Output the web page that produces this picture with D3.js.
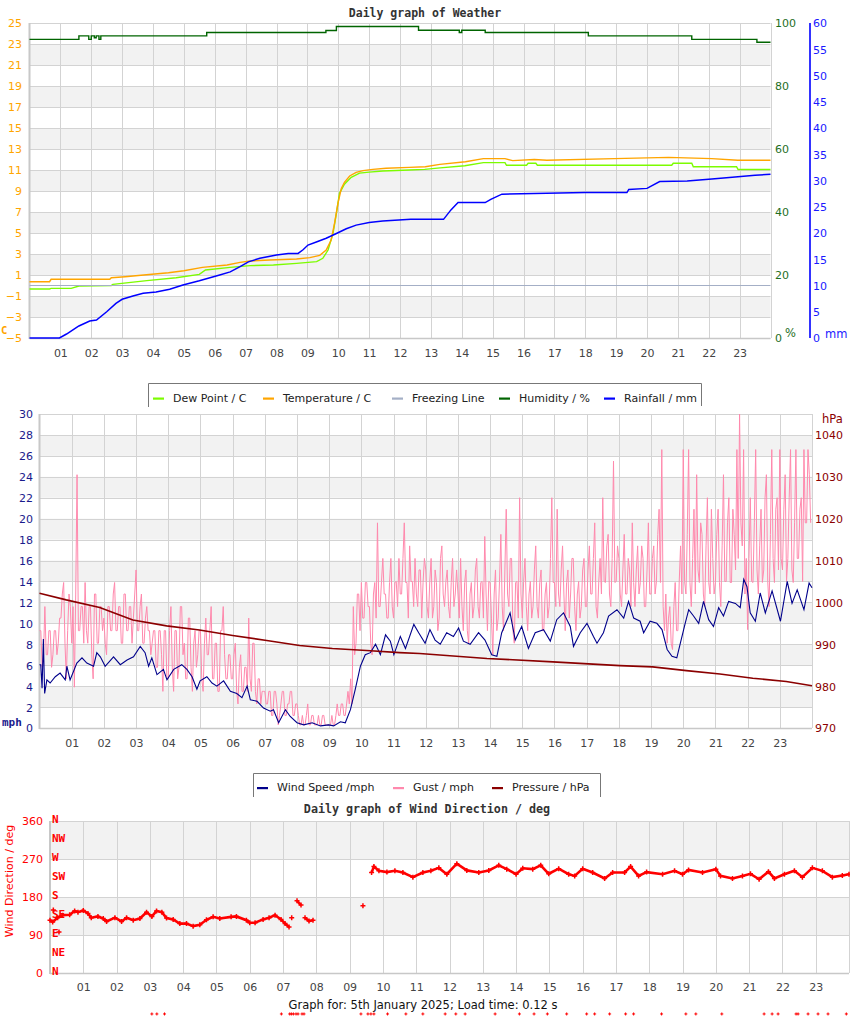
<!DOCTYPE html>
<html><head><meta charset="utf-8">
<script src="https://cdn.jsdelivr.net/npm/d3@7"></script>
<style>body{margin:0;background:#fff}svg{display:block}</style>
</head><body>
<svg id="c" width="850" height="1017"></svg>
<script>
// ---------------- DATA ----------------
const hourTicks = [1,2,3,4,5,6,7,8,9,10,11,12,13,14,15,16,17,18,19,20,21,22,23];
const hourLabels = ["01","02","03","04","05","06","07","08","09","10","11","12","13","14","15","16","17","18","19","20","21","22","23"];
const tempTicks = [-5,-3,-1,1,3,5,7,9,11,13,15,17,19,21,23,25];
const humTicks = [0,20,40,60,80,100];
const rainTicks = [0,5,10,15,20,25,30,35,40,45,50,55,60];
const mphTicks = [0,2,4,6,8,10,12,14,16,18,20,22,24,26,28,30];
const hpaTicks = [970,980,990,1000,1010,1020,1030,1040];
const dirTicks = [0,90,180,270,360];
const compassLabels = ["N","NE","E","SE","S","SW","W","NW","N"];
const compassDegrees = [0,45,90,135,180,225,270,315,360];

// [hour, °C]
const temperature = [[0,0.36],[0.65,0.36],[0.7,0.59],[2.6,0.59],[2.65,0.74],[3.1,0.84],[3.7,1.0],[4.5,1.22],[5.0,1.4],[5.6,1.73],[6.4,1.95],[6.82,2.2],[7.14,2.33],[7.78,2.43],[8.65,2.52],[9.08,2.65],[9.4,2.87],[9.61,3.38],[9.77,4.33],[9.88,5.92],[9.99,7.83],[10.1,9.25],[10.2,9.83],[10.37,10.43],[10.58,10.78],[10.8,10.94],[11.12,11.06],[11.55,11.16],[12.3,11.25],[12.82,11.31],[13.29,11.54],[14.12,11.79],[14.7,12.08],[15.4,12.08],[15.65,11.89],[16.35,12.0],[16.76,11.93],[18.94,12.08],[20.7,12.2],[22.1,12.08],[22.94,11.93],[24,11.93]];
const dewPoint = [[0,-0.33],[0.65,-0.33],[0.7,-0.27],[1.35,-0.27],[1.6,-0.05],[2.65,0.0],[2.7,0.11],[3.8,0.46],[4.75,0.74],[5.5,1.06],[5.7,1.48],[6.5,1.73],[7.14,1.89],[7.9,1.95],[8.65,2.11],[9.3,2.27],[9.5,2.59],[9.67,3.38],[9.83,4.97],[9.94,6.88],[10.04,8.78],[10.2,9.64],[10.42,10.3],[10.69,10.7],[11.0,10.8],[11.44,10.9],[12.3,11.0],[12.8,11.06],[13.3,11.2],[14.1,11.4],[14.7,11.7],[15.4,11.7],[15.45,11.45],[16.1,11.45],[16.15,11.64],[16.4,11.64],[16.45,11.45],[20.8,11.45],[20.85,11.64],[21.45,11.64],[21.5,11.31],[22.9,11.31],[22.95,11.05],[24,11.05]];
const freezing = [[0,0],[24,0]];
// [hour, %]
const humidity = [[0,94.8],[1.6,95.9],[1.92,94.8],[2.0,95.9],[2.1,95.3],[2.16,95.9],[2.25,94.8],[2.31,95.9],[5.74,97.0],[9.6,97.6],[9.94,98.9],[12.6,97.7],[13.92,97.0],[14.0,97.7],[14.76,97.0],[18.1,95.9],[21.45,94.8],[23.56,93.9],[24,93.9]];
// [hour, mm]
const rainfall = [[0,0],[0.97,0],[1.2,0.76],[1.6,2.29],[1.95,3.24],[2.17,3.43],[2.5,5.0],[2.8,6.6],[3.0,7.37],[3.35,8.0],[3.68,8.51],[4.1,8.76],[4.54,9.28],[4.97,10.1],[5.5,10.9],[6.16,12.0],[6.5,12.6],[6.82,13.6],[7.09,14.5],[7.46,15.2],[8.0,15.8],[8.38,16.1],[8.7,16.1],[8.86,16.8],[9.02,17.7],[9.29,18.3],[9.61,19.0],[9.94,19.9],[10.26,20.8],[10.58,21.5],[11.0,22.0],[11.44,22.3],[12.35,22.6],[13.41,22.6],[13.65,24.4],[13.88,25.8],[14.76,25.8],[14.94,26.4],[15.3,27.4],[18.0,27.7],[19.35,27.7],[19.41,28.3],[20.0,28.5],[20.41,29.8],[21.3,29.9],[22.1,30.3],[22.76,30.6],[23.5,31.0],[24,31.2]];

// [hour, mph]
const windSpeed = [[0.0,6.05],[0.04,6.05],[0.08,3.8],[0.12,8.5],[0.16,3.3],[0.23,4.6],[0.33,4.3],[0.49,4.9],[0.64,5.25],[0.8,4.6],[0.85,5.9],[0.95,4.6],[1.16,6.2],[1.32,6.7],[1.47,6.2],[1.68,5.9],[1.78,7.2],[1.89,6.8],[2.04,5.9],[2.3,6.8],[2.51,6.05],[2.72,6.5],[2.92,6.8],[3.13,7.8],[3.28,7.2],[3.39,5.9],[3.49,6.7],[3.65,5.1],[3.85,5.6],[3.96,4.6],[4.17,5.6],[4.42,6.05],[4.58,5.6],[4.74,4.9],[4.89,3.7],[4.99,4.5],[5.2,4.9],[5.36,4.3],[5.51,4.0],[5.72,4.5],[5.93,3.5],[6.13,3.3],[6.29,2.9],[6.45,4.0],[6.55,2.7],[6.76,2.55],[6.96,1.9],[7.17,1.6],[7.27,1.75],[7.43,0.5],[7.64,1.75],[7.79,1.1],[8.0,0.5],[8.21,0.3],[8.47,0.5],[8.73,0.2],[8.98,0.3],[9.14,0.2],[9.35,0.6],[9.5,0.5],[9.66,1.75],[9.81,3.7],[9.97,5.9],[10.12,7.0],[10.28,7.2],[10.44,8.0],[10.59,7.0],[10.75,8.9],[10.9,8.3],[11.01,7.0],[11.21,8.75],[11.37,7.6],[11.63,9.9],[11.78,9.1],[11.98,8.1],[12.13,9.4],[12.29,8.4],[12.45,8.0],[12.65,9.1],[12.86,8.75],[13.02,9.55],[13.17,8.3],[13.38,8.0],[13.64,9.1],[13.84,8.4],[14.05,7.0],[14.21,6.85],[14.36,9.1],[14.62,11.0],[14.78,8.4],[14.98,9.7],[15.19,7.6],[15.4,9.1],[15.66,9.4],[15.87,8.3],[16.07,10.35],[16.28,11.0],[16.49,9.7],[16.59,7.8],[16.8,9.1],[17.01,10.0],[17.21,8.75],[17.32,8.1],[17.52,9.1],[17.68,10.7],[17.94,11.3],[18.15,10.5],[18.3,12.1],[18.46,10.5],[18.66,10.2],[18.77,9.1],[18.97,10.2],[19.18,10.0],[19.34,9.4],[19.5,7.5],[19.65,6.85],[19.8,6.7],[19.91,8.1],[20.06,10.0],[20.17,11.3],[20.32,10.7],[20.48,10.0],[20.63,12.1],[20.79,10.35],[20.94,9.7],[21.1,11.5],[21.25,10.7],[21.41,12.1],[21.62,11.9],[21.77,11.5],[21.88,14.2],[21.98,13.5],[22.08,11.0],[22.24,10.2],[22.39,12.9],[22.55,11.0],[22.76,13.1],[23.02,10.2],[23.23,14.0],[23.38,11.9],[23.54,13.2],[23.75,11.3],[23.91,13.85],[24.0,13.4]];
// gust, one value every 2.5 minutes (24 per hour), mph
const gust = [
 9.3,9.3,5.8,7.0,11.6,7.0,7.0,9.3,9.3,5.8,7.0,9.3,9.3,7.0,8.1,10.5,10.5,12.8,13.9,8.1,4.7,9.3,12.8,11.6,
 8.1,11.6,3.9,12.8,24.2,9.3,9.3,11.6,11.6,8.1,13.9,9.3,8.1,11.6,11.6,7.0,4.7,12.8,12.8,8.1,8.1,11.6,11.6,9.3,
 10.5,8.1,7.0,11.6,11.6,9.3,9.3,12.8,13.9,9.3,9.3,11.6,11.6,8.1,8.1,12.8,12.8,9.3,9.3,11.6,11.6,8.1,10.5,12.8,
 15.1,9.3,9.3,11.6,12.8,8.1,8.1,10.5,11.6,9.3,9.3,7.0,8.1,9.3,9.3,5.8,5.8,9.3,9.3,7.0,3.5,9.3,9.3,4.7,
 4.7,9.3,11.6,5.8,3.5,9.3,9.3,4.7,5.8,11.6,11.6,7.0,8.1,4.7,4.7,10.5,10.5,5.8,3.5,8.1,9.3,5.8,7.0,9.3,
 9.3,4.7,3.5,8.1,10.5,7.0,7.0,9.3,11.6,4.7,4.7,8.1,8.1,3.5,3.5,9.3,9.3,11.6,7.0,4.7,4.7,7.0,7.0,4.7,
 4.7,7.0,8.1,3.5,2.3,5.8,7.0,3.5,3.5,5.8,5.8,3.5,10.5,4.7,3.5,8.1,8.1,3.5,2.3,4.7,4.7,2.3,3.5,3.5,
 3.5,2.3,2.3,3.5,3.5,1.2,1.2,3.5,3.5,2.3,0.3,1.2,2.3,3.5,3.5,1.2,1.2,2.3,2.3,3.5,3.5,1.2,1.2,2.3,
 2.3,1.2,0.3,0.3,1.2,0.3,0.3,1.2,2.3,0.3,0.3,1.2,1.2,0.3,0.3,0.3,1.2,0.3,0.3,1.2,1.2,0.3,0.3,0.3,
 0.3,0.3,1.2,0.3,0.3,1.2,2.3,1.2,1.2,2.3,2.3,1.2,1.2,2.3,3.5,2.3,4.7,2.3,11.6,7.0,8.1,12.8,12.8,9.3,
 13.9,10.5,10.5,13.9,13.9,11.6,11.6,8.1,7.0,12.8,13.9,10.5,19.6,11.6,11.6,14.0,16.2,12.8,12.8,10.5,10.5,13.9,16.2,11.6,
 10.5,13.9,14.0,11.6,16.2,12.8,12.8,16.2,19.6,13.9,13.9,10.5,17.4,14.0,14.0,11.6,16.2,12.8,11.6,15.1,15.1,10.5,13.9,16.2,
 15.1,11.6,10.5,14.0,16.2,10.5,11.6,15.1,13.9,9.3,10.5,16.2,17.4,12.8,11.6,14.0,15.1,11.6,10.5,13.9,16.2,11.6,12.8,15.1,
 12.8,10.5,16.2,11.6,9.3,13.9,15.1,9.3,8.1,12.8,13.9,10.5,11.6,15.1,16.2,11.6,10.5,13.9,14.0,10.5,18.3,12.8,9.3,14.0,
 13.9,10.5,7.0,12.8,15.1,9.3,10.5,14.0,18.5,11.6,9.3,15.1,20.9,12.8,11.6,16.2,16.2,9.3,8.1,13.9,14.0,10.5,22.0,12.8,
 10.5,14.0,16.2,11.6,9.3,12.8,14.0,10.5,11.6,15.1,17.4,11.6,10.5,13.9,15.1,9.3,9.3,12.8,13.9,10.5,11.6,16.2,22.0,13.9,
 13.9,11.6,20.9,12.8,11.6,15.1,17.4,12.8,9.3,13.9,15.1,10.5,12.8,16.2,16.2,11.6,9.3,12.8,14.0,10.5,11.6,15.1,16.2,11.6,
 11.6,15.1,17.4,12.8,12.8,16.2,19.6,11.6,10.5,14.0,16.2,12.8,22.0,14.0,13.9,17.4,18.5,12.8,11.6,16.2,25.5,13.9,14.0,17.4,
 16.2,12.8,11.6,15.1,18.5,12.8,12.8,16.2,15.1,11.6,19.6,13.9,11.6,15.1,17.4,12.8,13.9,17.4,16.2,11.6,11.6,15.1,19.6,12.8,
 12.8,16.2,17.4,12.8,14.0,18.5,20.9,13.9,26.6,11.6,9.3,12.8,8.1,10.5,11.6,8.1,7.5,11.6,13.9,9.3,9.3,14.0,17.4,12.8,
 26.6,14.0,12.8,18.5,26.6,13.9,11.6,16.2,20.9,12.8,24.2,15.1,13.9,19.6,18.5,12.8,11.6,17.4,22.0,13.9,12.8,20.9,16.2,12.8,
 13.9,18.5,20.9,13.9,11.6,17.4,24.2,14.0,14.0,19.6,22.0,13.9,13.9,20.9,18.5,15.1,26.6,16.2,30.0,19.6,17.4,26.6,12.8,16.2,
 9.4,16.2,22.0,14.0,13.9,19.6,26.6,15.1,12.8,17.4,20.9,13.9,15.1,22.0,24.2,14.0,11.6,18.5,26.6,16.2,13.9,20.9,22.0,15.1,
 26.6,16.2,15.1,20.9,24.2,14.0,16.2,22.0,26.6,15.1,13.9,19.6,26.6,16.2,16.2,20.9,22.0,14.0,26.6,19.6,19.6,26.6,24.2,19.6];
const gustSamplesPerHour = 24;
// [hour, hPa]
const pressure = [[0,1002.2],[0.83,1000.6],[1.87,998.8],[2.9,995.8],[3.95,994.4],[4.97,993.4],[6.0,992.1],[7.06,990.9],[8.08,989.7],[9.1,989.0],[10.16,988.5],[11.19,988.0],[11.81,987.8],[13.9,986.6],[15.95,985.8],[18.03,984.9],[19.05,984.6],[20.1,983.7],[21.14,982.9],[22.16,981.9],[23.2,981.1],[24,980.1]];

// [hour, degrees]; null = gap
const windDir = [[0.0,125],[0.08,121],[0.23,131],[0.38,137],[0.59,138],[0.74,147],[0.84,144],[1.0,148],[1.14,141],[1.24,131],[1.44,134],[1.6,129],[1.7,122],[1.95,131],[2.15,122],[2.3,131],[2.5,125],[2.7,129],[2.9,144],[3.06,134],[3.2,147],[3.36,144],[3.5,130],[3.7,127],[3.9,117],[4.1,117],[4.3,111],[4.5,114],[4.7,126],[4.9,133],[5.1,129],[5.44,133],[5.6,134],[5.9,125],[6.0,119],[6.16,119],[6.4,127],[6.58,131],[6.76,137],[6.94,127],[7.06,117],[7.18,109],null,[7.26,131],null,[7.42,171],[7.54,161],null,[7.66,131],[7.78,123],[7.9,125],null,[9.4,159],null,[9.66,238],[9.73,252],[9.88,242],[10.12,239],[10.36,242],[10.6,238],[10.9,227],[11.2,238],[11.44,242],[11.68,249],[11.92,234],[12.22,259],[12.52,243],[12.88,238],[13.18,243],[13.48,255],[13.72,246],[14.0,234],[14.2,248],[14.5,246],[14.74,255],[14.98,235],[15.28,247],[15.58,234],[15.76,230],[16.0,247],[16.3,238],[16.66,224],[16.9,238],[17.26,238],[17.44,252],[17.68,230],[17.92,239],[18.4,234],[18.76,242],[19.0,234],[19.18,244],[19.6,238],[20.0,246],[20.14,230],[20.5,224],[20.8,230],[21.04,235],[21.3,222],[21.58,240],[21.76,224],[22.06,234],[22.36,242],[22.6,227],[22.9,249],[23.2,242],[23.5,227],[23.8,231],[24.0,234]];
const windDirIsolated = [[0.1,149],[0.27,97]];
const calmHours = [3.06,3.21,3.44,6.95,7.2,7.25,7.31,7.39,7.45,7.57,7.63,9.34,9.55,9.64,9.73,10.14,10.69,11.2,11.87,12.19,12.47,13.37,14.1,14.54,14.94,15.52,16.12,16.36,16.81,17.29,17.53,18.37,19.1,19.4,20.18,21.45,21.69,21.87,22.41,22.47,22.77,23.07,23.37,23.92];
const calmPlotValue = -97;

// ---------------- DRAWING ----------------
const svg = d3.select("#c");
const SANS = "DejaVu Sans, sans-serif";
const MONO = "DejaVu Sans Mono, monospace";
const GRID = "#d3d3d3", BAND = "#f2f2f2";

function panel(x, y, ticks, grayFromTop) {
  const g = svg.append("g");
  const [x0, x1] = x.range();
  const n = ticks.length - 1;
  for (let i = 0; i < n; i++) {
    const top = y(ticks[n - i]), bot = y(ticks[n - i - 1]);
    if ((i % 2) === grayFromTop) {
      g.append("rect").attr("x", x0).attr("y", top).attr("width", x1 - x0).attr("height", bot - top).attr("fill", BAND);
    }
  }
  ticks.forEach(t => {
    const yy = Math.round(y(t)) + 0.5;
    g.append("line").attr("x1", x0).attr("x2", x1).attr("y1", yy).attr("y2", yy).attr("stroke", GRID);
  });
  hourTicks.concat([24]).forEach(h => {
    const xx = Math.round(x(h)) + 0.5;
    g.append("line").attr("x1", xx).attr("x2", xx).attr("y1", y(ticks[n])).attr("y2", y(ticks[0])).attr("stroke", GRID);
  });
  g.append("line").attr("x1", x0).attr("x2", x0).attr("y1", y(ticks[n])).attr("y2", y(ticks[0]) + 1).attr("stroke", "#c8c8c8").attr("stroke-width", 2);
  g.append("line").attr("x1", x0).attr("x2", x1).attr("y1", y(ticks[0]) + 0.5).attr("y2", y(ticks[0]) + 0.5).attr("stroke", "#c8c8c8").attr("stroke-width", 1.5);
  return g;
}

function hourAxis(x, yPos) {
  const ax = d3.axisBottom(x).tickValues(hourTicks).tickFormat((d, i) => hourLabels[i]).tickSize(0);
  const g = svg.append("g").attr("transform", `translate(0,${yPos})`).call(ax);
  g.select(".domain").remove();
  g.selectAll("text").attr("y", 0).attr("dy", null).attr("font-family", SANS).attr("font-size", 11).attr("fill", "#444");
}

function valueAxis(axisFn, scale, ticks, xPos, color) {
  const ax = axisFn(scale).tickValues(ticks).tickSize(0).tickPadding(0).tickFormat(d3.format("d"));
  const g = svg.append("g").attr("transform", `translate(${xPos},0)`).call(ax);
  g.select(".domain").remove();
  g.selectAll("text").attr("font-family", SANS).attr("font-size", 11).attr("fill", color).attr("dy", "0.36em");
  return g;
}

function text(x, y, s, opts) {
  const t = svg.append("text").attr("x", x).attr("y", y).text(s)
    .attr("font-family", opts.family || SANS).attr("font-size", opts.size || 11)
    .attr("fill", opts.fill || "#000");
  if (opts.anchor) t.attr("text-anchor", opts.anchor);
  if (opts.weight) t.attr("font-weight", opts.weight);
  return t;
}

// ===== Chart 1: Weather =====
const xTop = d3.scaleLinear([0, 24], [29.5, 770.5]);
const yTemp = d3.scaleLinear([-5, 25], [338, 23]);
const yHum = d3.scaleLinear([0, 100], [338, 23]);
const yRain = d3.scaleLinear([0, 60], [338, 23]);

text(425, 16.5, "Daily graph of Weather", {family: MONO, size: 11.5, weight: "bold", fill: "#333", anchor: "middle"});
panel(xTop, yTemp, tempTicks, 1);

const lineT = d3.line().x(d => xTop(d[0])).y(d => yTemp(d[1]));
svg.append("path").attr("d", lineT(dewPoint)).attr("fill", "none").attr("stroke", "#7CFC00").attr("stroke-width", 1.4);
svg.append("path").attr("d", lineT(freezing)).attr("fill", "none").attr("stroke", "#a4afc6").attr("stroke-width", 1.2);
svg.append("path").attr("d", lineT(temperature)).attr("fill", "none").attr("stroke", "#FFA500").attr("stroke-width", 1.4);
svg.append("path").attr("d", d3.line().x(d => xTop(d[0])).y(d => yRain(d[1]))(rainfall)).attr("fill", "none").attr("stroke", "#0000FF").attr("stroke-width", 1.5);
svg.append("path").attr("d", d3.line().curve(d3.curveStepAfter).x(d => xTop(d[0])).y(d => yHum(d[1]))(humidity)).attr("fill", "none").attr("stroke", "#006400").attr("stroke-width", 1.4);

hourAxis(xTop, 357);
valueAxis(d3.axisLeft, yTemp, tempTicks, 22, "#FFA500");
valueAxis(d3.axisRight, yHum, humTicks, 775, "#1f6f1f");
svg.append("line").attr("x1", 810).attr("x2", 810).attr("y1", yRain(60)).attr("y2", yRain(0)).attr("stroke", "#0000FF").attr("stroke-width", 1.6);
valueAxis(d3.axisRight, yRain, rainTicks, 813, "#1a1aff");
text(1, 334, "C", {family: MONO, size: 10.5, weight: "bold", fill: "#FFA500"});
text(785, 337, "%", {size: 11.5, fill: "#1f6f1f"});
text(825, 338, "mm", {size: 11.5, fill: "#1a1aff"});

// Legend 1
const leg1 = [["Dew Point / C", "#7CFC00", 153, 173], ["Temperature / C", "#FFA500", 263, 283], ["Freezing Line", "#a4afc6", 392, 412], ["Humidity / %", "#006400", 499, 519], ["Rainfall / mm", "#0000FF", 604, 624]];
svg.append("path").attr("d", "M148.5,407V383.5H701.5V406").attr("fill", "none").attr("stroke", "#777").attr("stroke-width", 1);
leg1.forEach(d => {
  svg.append("rect").attr("x", d[2]).attr("y", 397.5).attr("width", 11).attr("height", 2.2).attr("fill", d[1]);
  text(d[3], 401.5, d[0], {size: 11, fill: "#222"});
});

// ===== Chart 2: Wind speed / gust / pressure =====
const xMid = d3.scaleLinear([0, 24], [39.5, 812]);
const yMph = d3.scaleLinear([0, 30], [728, 414]);
const yHpa = d3.scaleLinear([970, 1045], [728, 414]);
panel(xMid, yMph, mphTicks, 1);

svg.append("path").attr("d", d3.line().x((d, i) => xMid(i / gustSamplesPerHour)).y(d => yMph(d))(gust)).attr("fill", "none").attr("stroke", "#ff89ad").attr("stroke-width", 1);
svg.append("path").attr("d", d3.line().x(d => xMid(d[0])).y(d => yMph(d[1]))(windSpeed)).attr("fill", "none").attr("stroke", "#00008B").attr("stroke-width", 1.1);
svg.append("path").attr("d", d3.line().x(d => xMid(d[0])).y(d => yHpa(d[1]))(pressure)).attr("fill", "none").attr("stroke", "#8B0000").attr("stroke-width", 1.6);

hourAxis(xMid, 747);
valueAxis(d3.axisLeft, yMph, mphTicks, 33, "#1a1a8c");
valueAxis(d3.axisRight, yHpa, hpaTicks, 815, "#8B0000");
text(2, 726, "mph", {family: MONO, size: 11, weight: "bold", fill: "#1a1a8c"});
text(822, 423, "hPa", {size: 11.5, fill: "#8B0000"});

// Legend 2
const leg2 = [["Wind Speed /mph", "#00008B", 257, 277], ["Gust / mph", "#ff89ad", 393, 413], ["Pressure / hPa", "#8B0000", 492, 512]];
svg.append("path").attr("d", "M253.5,797V773.5H600.5V797").attr("fill", "none").attr("stroke", "#777").attr("stroke-width", 1);
leg2.forEach(d => {
  svg.append("rect").attr("x", d[2]).attr("y", 787).attr("width", 11).attr("height", 2.2).attr("fill", d[1]);
  text(d[3], 791, d[0], {size: 11, fill: "#222"});
});

// ===== Chart 3: Wind direction =====
const xDir = d3.scaleLinear([0, 24], [50, 849]);
const yDir = d3.scaleLinear([0, 360], [973, 821]);
text(427, 813, "Daily graph of Wind Direction / deg", {family: MONO, size: 11.7, weight: "bold", fill: "#333", anchor: "middle"});
panel(xDir, yDir, dirTicks, 0);

const plus = (x, y, r) => `M${x - r},${y}H${x + r}M${x},${y - r}V${y + r}`;
const dirLine = d3.line().defined(d => d !== null).x(d => xDir(d[0])).y(d => yDir(d[1]));
svg.append("path").attr("d", dirLine(windDir)).attr("fill", "none").attr("stroke", "#ff0000").attr("stroke-width", 2.6);
const dirPts = windDir.filter(d => d !== null).concat(windDirIsolated);
svg.append("path").attr("d", dirPts.map(d => plus(xDir(d[0]), yDir(d[1]), 2.5)).join("")).attr("fill", "none").attr("stroke", "#ff0000").attr("stroke-width", 1.5);
svg.append("path").attr("d", calmHours.map(h => plus(xDir(h), yDir(calmPlotValue), 1.5)).join("")).attr("fill", "none").attr("stroke", "#ff0000").attr("stroke-width", 1);

hourAxis(xDir, 991);
valueAxis(d3.axisLeft, yDir, dirTicks, 43, "#ff0000");
compassLabels.forEach((c, i) => {
  text(52, yDir(compassDegrees[i]) + 2, c, {family: MONO, size: 11, weight: "bold", fill: "#ff0000"});
});
text(0, 0, "Wind Direction / deg", {size: 11, fill: "#ff0000", anchor: "middle"}).attr("transform", "translate(13,881) rotate(-90)");

text(423, 1009, "Graph for: 5th January 2025; Load time: 0.12 s", {size: 11.5, fill: "#111", anchor: "middle"});
</script>
</body></html>
